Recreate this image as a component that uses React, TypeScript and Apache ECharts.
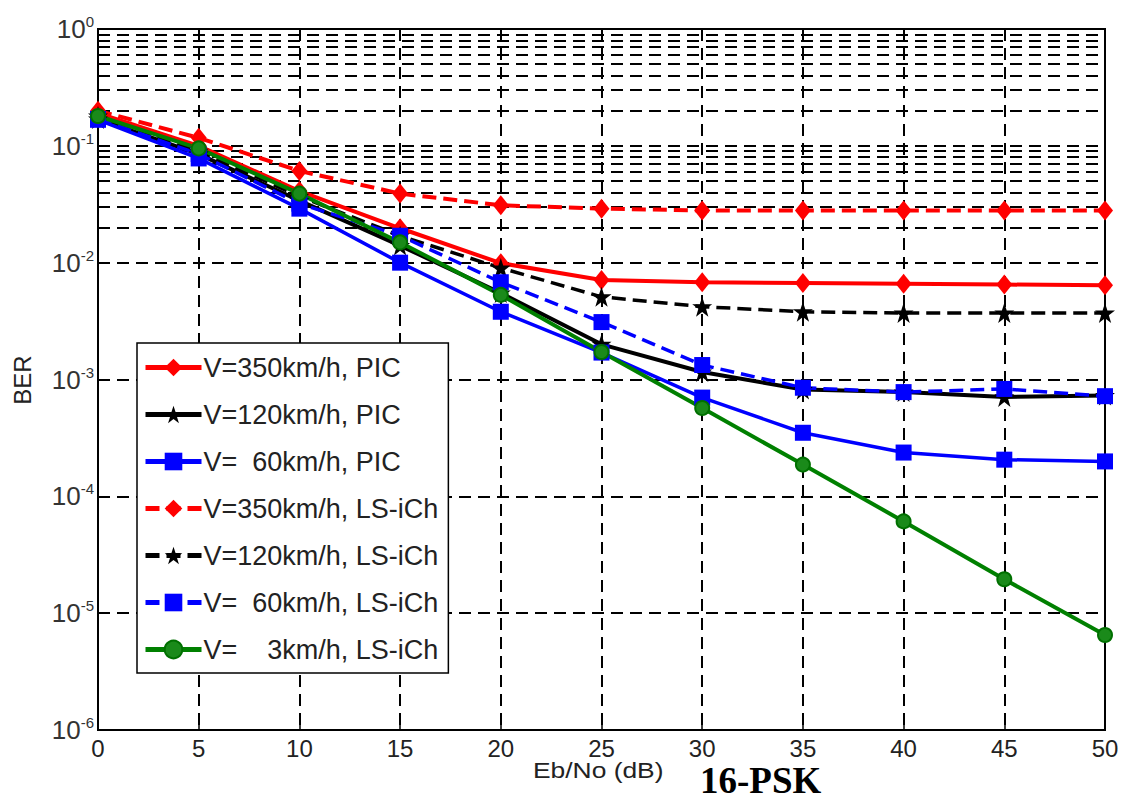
import React, { useEffect, useRef } from "react";
import * as echarts from "echarts";

const snr = [0, 5, 10, 15, 20, 25, 30, 35, 40, 45, 50];
const decades = [-6, -5, -4, -3, -2, -1, 0];

const v350PIC = [0.19, 0.1, 0.041, 0.0197, 0.0099, 0.0071, 0.0068, 0.0067, 0.0066, 0.0065, 0.0064];
const v120PIC = [0.17, 0.085, 0.034, 0.014, 0.0055, 0.002, 0.00116, 0.00082, 0.00078, 0.00071, 0.00073];
const v60PIC = [0.167, 0.078, 0.029, 0.01, 0.0038, 0.0017, 0.0007, 0.00035, 0.000237, 0.000206, 0.000199];
const v350LS = [0.2, 0.117, 0.061, 0.039, 0.031, 0.029, 0.028, 0.028, 0.028, 0.028, 0.028];
const v120LS = [0.18, 0.09, 0.037, 0.017, 0.009, 0.0051, 0.0042, 0.0038, 0.0037, 0.0037, 0.0037];
const v60LS = [0.17, 0.085, 0.032, 0.017, 0.0068, 0.0031, 0.00133, 0.00085, 0.00078, 0.00083, 0.00072];
const v3LS = [0.18, 0.095, 0.039, 0.0149, 0.0053, 0.00172, 0.00057, 0.000187, 0.000061, 0.0000195, 0.0000065];

const names = [
  "V=350km/h, PIC",
  "V=120km/h, PIC",
  "V=\u00a0\u00a060km/h, PIC",
  "V=350km/h, LS-iCh",
  "V=120km/h, LS-iCh",
  "V=\u00a0\u00a060km/h, LS-iCh",
  "V=\u00a0\u00a0\u00a0\u00a03km/h, LS-iCh",
];

const STAR = "path://M12,0 L14.9,8.6 L24,8.6 L16.6,14 L19.4,23 L12,17.5 L4.6,23 L7.4,14 L0,8.6 L9.1,8.6 Z";
const SANS = "Liberation Sans, Arial, Helvetica, sans-serif";

export default function App() {
  const ref = useRef<HTMLDivElement>(null);
  useEffect(() => {
    if (!ref.current) return;
    const chart = echarts.init(ref.current, null, { renderer: "svg" });
    const minorValues: number[] = [];
    decades.slice(0, -1).forEach((d) => {
      for (let k = 2; k <= 9; k++) minorValues.push(k * Math.pow(10, d));
    });
    const mk = (vals: number[]) => vals.map((v, i) => [snr[i], v]);
    const gridDash = [12, 7];
    const seriesDash = [14, 7];
    const line = (
      name: string,
      data: number[],
      color: string,
      symbol: string,
      size: any,
      width: number,
      dashed: boolean,
      extra: any = {}
    ) => ({
      name,
      type: "line",
      data: mk(data),
      symbol,
      symbolSize: size,
      showAllSymbol: true,
      itemStyle: { color, borderColor: color, borderWidth: 0, ...extra },
      lineStyle: { color, width, type: dashed ? seriesDash : "solid" },
      z: 5,
    });
    const option: any = {
      animation: false,
      backgroundColor: "#fff",
      textStyle: { fontFamily: SANS },
      grid: {
        left: 98,
        top: 29,
        right: 22,
        bottom: 70,
        show: true,
        borderColor: "#000",
        borderWidth: 2,
        backgroundColor: "transparent",
      },
      xAxis: {
        type: "value",
        min: 0,
        max: 50,
        interval: 5,
        axisLine: { lineStyle: { color: "#000", width: 2 } },
        axisTick: { inside: true, length: 7, lineStyle: { color: "#000", width: 1.5 } },
        axisLabel: { color: "#222", fontSize: 24, margin: 6, fontFamily: SANS },
        splitLine: { show: true, lineStyle: { color: "#000", type: gridDash, width: 2 } },
      },
      yAxis: {
        type: "log",
        logBase: 10,
        min: 1e-6,
        max: 1,
        axisLine: { lineStyle: { color: "#000", width: 2 } },
        axisTick: { inside: true, length: 7, lineStyle: { color: "#000", width: 1.5 } },
        axisLabel: {
          color: "#222",
          margin: 4,
          formatter: (v: number) => {
            const e = Math.round(Math.log10(v));
            return `{b|10}{s|${e}}`;
          },
          rich: {
            b: { fontSize: 26, color: "#333", fontFamily: SANS },
            s: { fontSize: 15, color: "#333", padding: [0, 0, 15, 0], fontFamily: SANS },
          },
        },
        splitLine: { show: true, lineStyle: { color: "#000", type: gridDash, width: 2 } },
      },
      legend: {
        orient: "vertical",
        left: 137,
        top: 343,
        itemWidth: 56,
        itemHeight: 22,
        itemGap: 20,
        padding: [11, 10, 10, 6],
        backgroundColor: "#fff",
        borderColor: "#000",
        borderWidth: 1.5,
        lineStyle: { width: 5 },
        textStyle: { fontSize: 27, color: "#222", padding: [0, 0, 0, -3], fontFamily: SANS },
        data: names,
      },
      series: [
        {
          name: "grid",
          type: "line",
          data: [],
          silent: true,
          markLine: {
            silent: true,
            symbol: "none",
            label: { show: false },
            lineStyle: { color: "#000", type: gridDash, width: 2 },
            data: minorValues.map((v) => ({ yAxis: v })),
          },
          z: 1,
        },
        line(names[0], v350PIC, "#ff0000", "diamond", [16, 20], 4, false),
        line(names[1], v120PIC, "#000000", STAR, 20, 4, false),
        line(names[2], v60PIC, "#0000ff", "rect", 16, 3.5, false),
        line(names[3], v350LS, "#ff0000", "diamond", [16, 20], 4, true),
        line(names[4], v120LS, "#000000", STAR, 20, 3.5, true),
        line(names[5], v60LS, "#0000ff", "rect", 16, 3.5, true),
        line(names[6], v3LS, "#008000", "circle", 14, 4, false, {
          color: "#1a8a1a",
          borderColor: "#007000",
          borderWidth: 2,
        }),
      ],
      graphic: [
        {
          type: "text",
          x: 22,
          y: 380,
          rotation: Math.PI / 2,
          style: {
            text: "BER",
            fontSize: 24,
            fill: "#222",
            fontFamily: SANS,
            textAlign: "center",
            textVerticalAlign: "middle",
          },
        },
        {
          type: "text",
          x: 533,
          y: 770,
          scaleX: 1.2,
          style: {
            text: "Eb/No (dB)",
            fontSize: 22,
            fill: "#222",
            fontFamily: SANS,
            textAlign: "left",
            textVerticalAlign: "middle",
          },
        },
        {
          type: "text",
          x: 700,
          y: 780,
          style: {
            text: "16-PSK",
            fontSize: 37,
            fontWeight: "bold",
            fill: "#000",
            fontFamily: "Liberation Serif, Times New Roman, serif",
            textAlign: "left",
            textVerticalAlign: "middle",
          },
        },
      ],
    };
    chart.setOption(option);
    return () => chart.dispose();
  }, []);
  return (
    <div
      ref={ref}
      style={{ position: "fixed", left: 0, top: 0, width: 1127, height: 800, background: "#fff" }}
    />
  );
}
